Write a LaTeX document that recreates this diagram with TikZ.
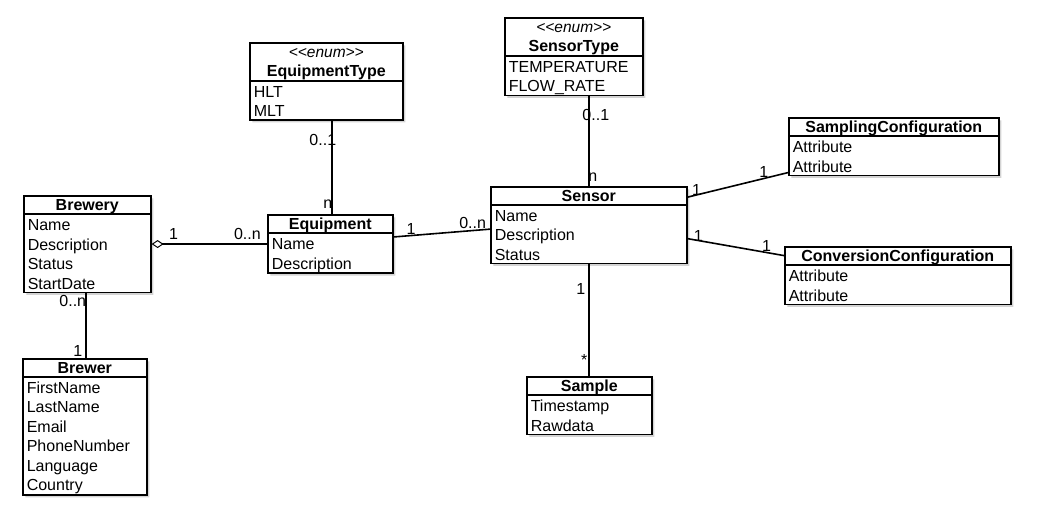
\documentclass[tikz,border=0pt]{standalone}
\usepackage{fontspec}
\setmainfont{Liberation Sans}
\usetikzlibrary{shapes.multipart,shadows,arrows.meta}
\newcommand{\rowstrut}{\rule[-4pt]{0pt}{19.5pt}}
\newcommand{\laststrut}{\rule[-2.5pt]{0pt}{2.5pt}}
\newcommand{\headstrut}{\rule[-3pt]{0pt}{16.5pt}}
\newcommand{\classname}[1]{\makebox[\hsize]{\headstrut\textbf{#1}}}
\newcommand{\stereo}{\makebox[\hsize]{\headstrut\fontsize{15.5}{19.5}\selectfont\itshape <{}<enum>{}>}}
\begin{document}
\begin{tikzpicture}[x=1pt,y=-1pt,
    every node/.style={font=\fontsize{16}{19.5}\selectfont},
    umlclass/.style={draw,fill=white,line width=1.6pt,rectangle split,rectangle split parts=2,
        anchor=north west,align=left,inner xsep=4pt,inner ysep=0pt,
        drop shadow={shadow xshift=2.5pt,shadow yshift=-2.5pt,opacity=.35}},
    assoc/.style={line width=1.6pt},
    mult/.style={inner sep=0pt}]
    \useasboundingbox (0,0) rectangle (1058,518);
    \node[umlclass,text width=119pt] (brewery) at (23,195)
        {\classname{Brewery}
         \nodepart{two}\rowstrut Name\\Description\\Status\\StartDate\laststrut};
    \node[umlclass,text width=116pt] (brewer) at (22,358)
        {\classname{Brewer}
         \nodepart{two}\rowstrut FirstName\\LastName\\Email\\PhoneNumber\\Language\\Country\laststrut};
    \node[umlclass,text width=117pt] (equipment) at (267,214)
        {\classname{Equipment}
         \nodepart{two}\rowstrut Name\\Description\laststrut};
    \node[umlclass,text width=145pt] (equipmenttype) at (249,42)
        {\stereo\\\classname{EquipmentType}
         \nodepart{two}\rowstrut HLT\\MLT\laststrut};
    \node[umlclass,text width=130pt] (sensortype) at (504,17)
        {\stereo\\\classname{SensorType}
         \nodepart{two}\rowstrut TEMPERATURE\\FLOW\_RATE\laststrut};
    \node[umlclass,text width=188pt] (sensor) at (490,186)
        {\classname{Sensor}
         \nodepart{two}\rowstrut Name\\Description\\Status\laststrut};
    \node[umlclass,text width=202pt] (sampling) at (788,117)
        {\classname{SamplingConfiguration}
         \nodepart{two}\rowstrut Attribute\\Attribute\laststrut};
    \node[umlclass,text width=218pt] (conversion) at (784,246)
        {\classname{ConversionConfiguration}
         \nodepart{two}\rowstrut Attribute\\Attribute\laststrut};
    \node[umlclass,text width=117pt] (sample) at (526,376)
        {\classname{Sample}
         \nodepart{two}\rowstrut Timestamp\\Rawdata\laststrut};
    \coordinate (eqtop) at ([xshift=1.5pt]equipment.north);
    \coordinate (brewbot) at ([xshift=-1.5pt]brewery.south);
    \draw[assoc,{Diamond[open,length=12pt,width=8pt,line width=1pt]}-] (brewery.east) --
        node[mult,pos=.19,yshift=10pt] {1} node[mult,pos=.83,yshift=10pt] {0..n}
        (brewery.east -| equipment.west);
    \draw[assoc] (brewbot) --
        node[mult,pos=.12,xshift=-13pt] {0..n} node[mult,pos=.89,xshift=-8pt] {1}
        (brewbot |- brewer.north);
    \draw[assoc] (eqtop) --
        node[mult,pos=.1,xshift=-4pt] {n} node[mult,pos=.79,xshift=-9pt] {0..1}
        (eqtop |- equipmenttype.south);
    \draw[assoc] ([yshift=7pt]equipment.east) --
        node[mult,pos=.18,yshift=7pt] {1} node[mult,pos=.82,yshift=8pt] {0..n}
        ([yshift=-4pt]sensor.west);
    \draw[assoc] (sensor.north) --
        node[mult,pos=.1,xshift=4pt] {n} node[mult,pos=.79,xshift=7pt] {0..1}
        (sensor.north |- sensortype.south);
    \draw[assoc] ([yshift=28pt]sensor.east) --
        node[mult,pos=.09,yshift=5pt] {1} node[mult,pos=.76,yshift=6pt] {1}
        ([yshift=-26pt]sampling.west);
    \draw[assoc] ([yshift=-13.5pt]sensor.east) --
        node[mult,pos=.11,yshift=5pt] {1} node[mult,pos=.82,yshift=7pt] {1}
        ([yshift=20pt]conversion.west);
    \draw[assoc] (sensor.south) --
        node[mult,pos=.22,xshift=-8pt] {1} node[mult,pos=.86,xshift=-4.5pt] {*}
        (sensor.south |- sample.north);
\end{tikzpicture}
\end{document}
